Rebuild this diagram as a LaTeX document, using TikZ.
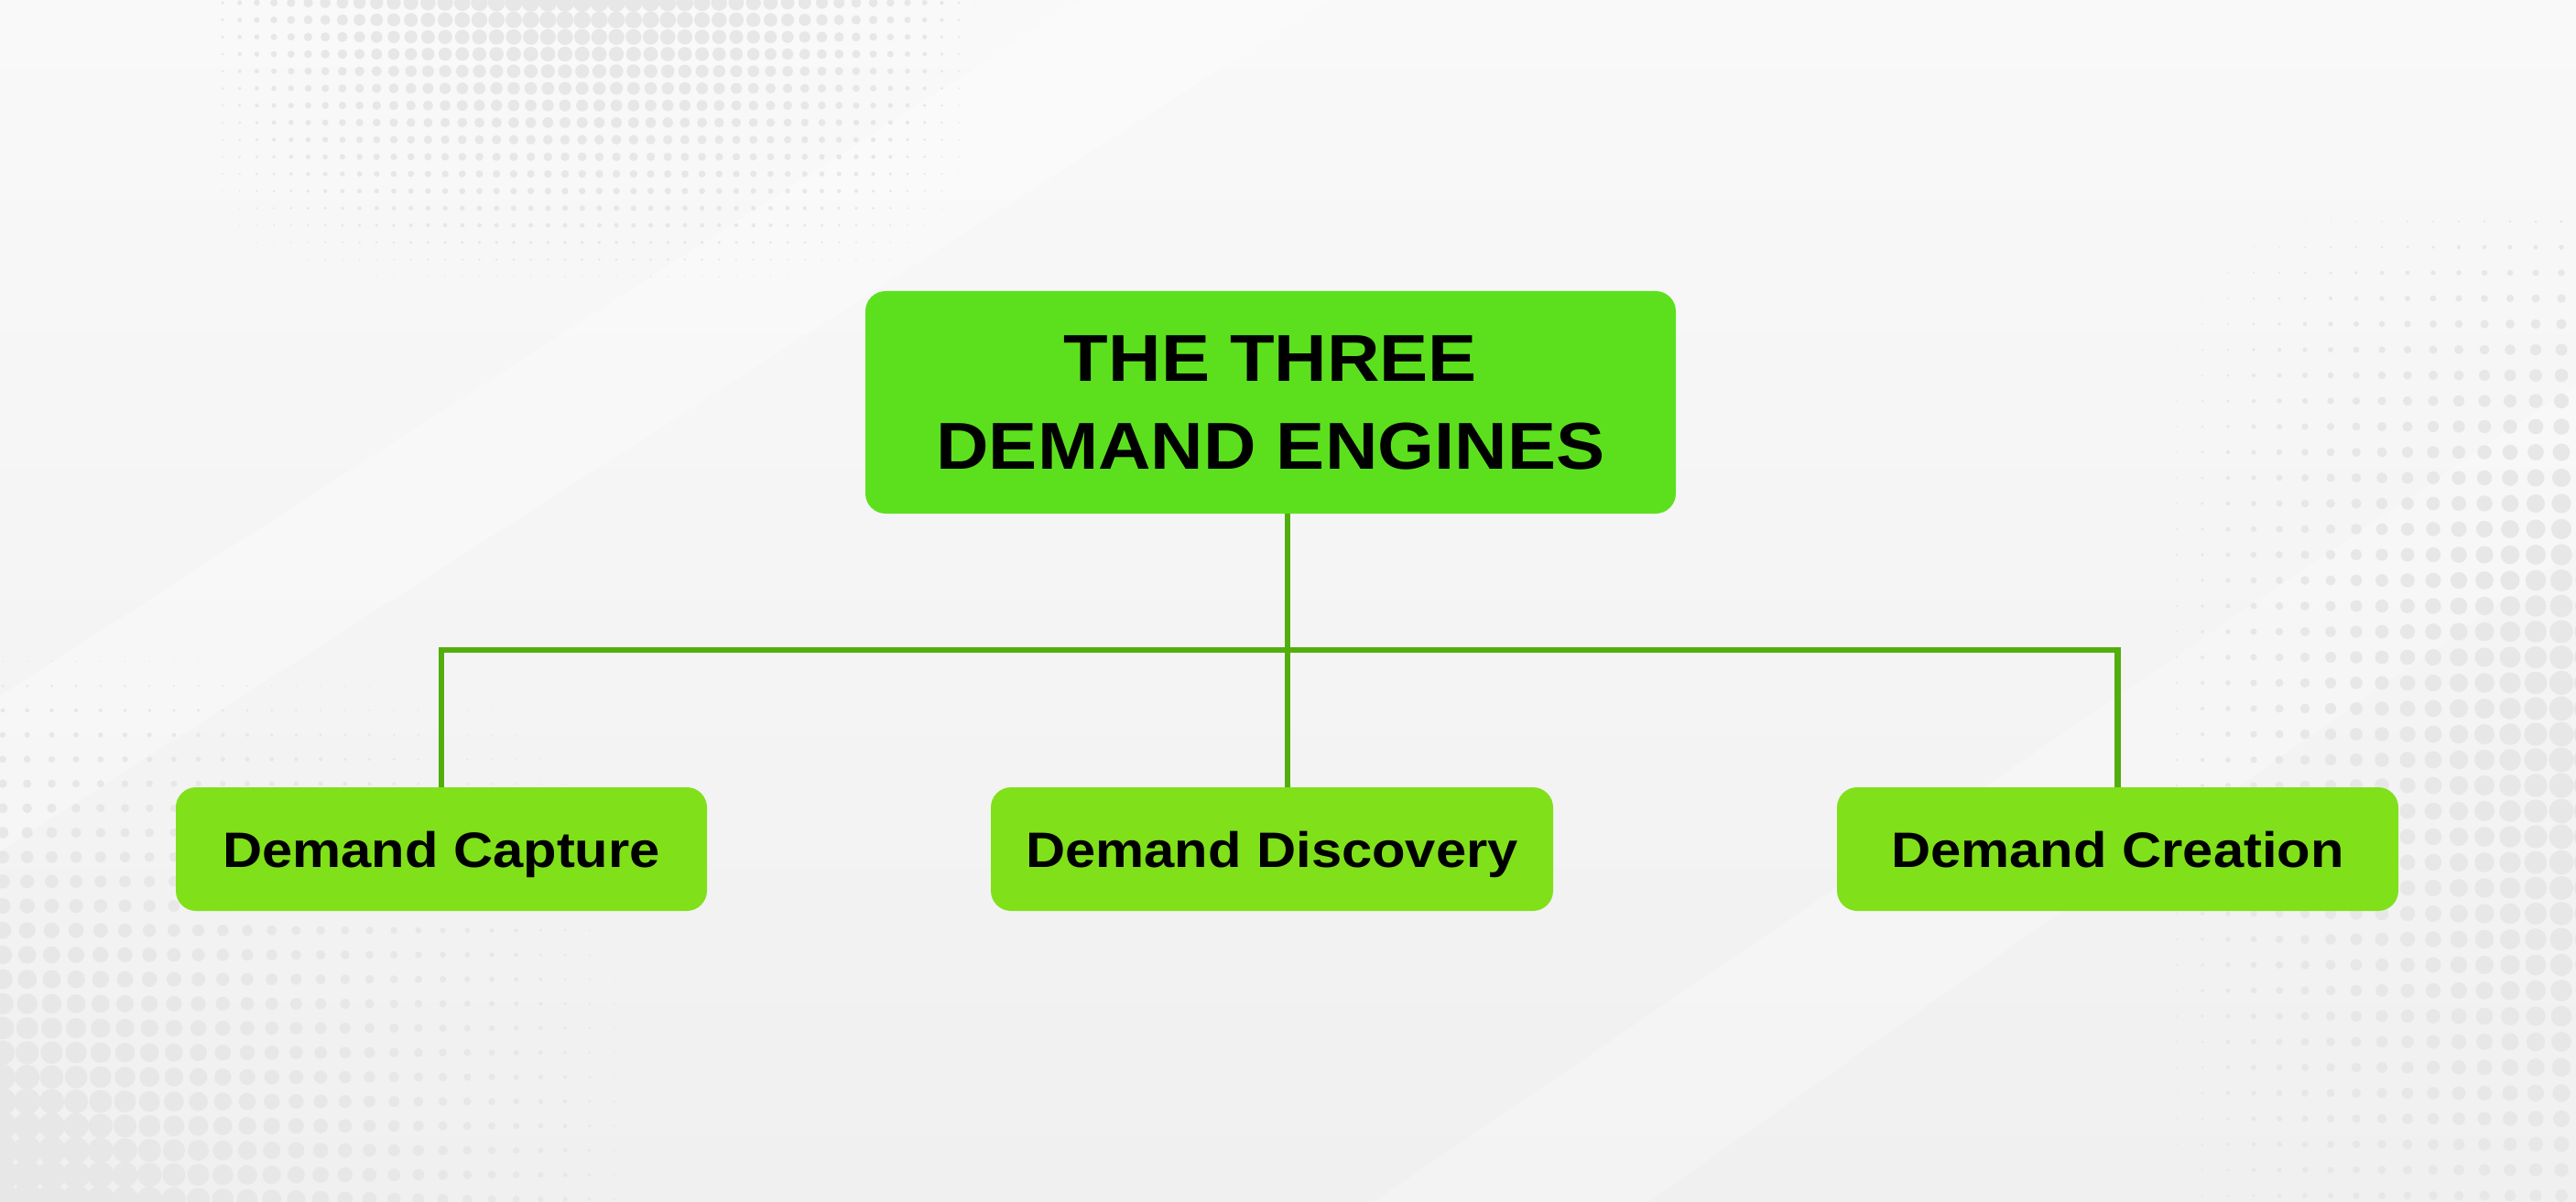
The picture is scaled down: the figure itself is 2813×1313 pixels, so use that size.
\documentclass[tikz,border=0pt]{standalone}
\usepackage{fontspec}
\newfontfamily\lsb{Liberation Sans}[FakeStretch=1.1]
\definecolor{topg}{HTML}{5CE01E}
\definecolor{boxg}{HTML}{80E01A}
\definecolor{lineg}{HTML}{52AE0C}
\definecolor{bgtop}{HTML}{F9F9F9}
\definecolor{bgbot}{HTML}{F0F0F0}
\definecolor{dotc}{HTML}{E7E7E7}
\begin{document}
\begin{tikzpicture}[x=1pt,y=-1pt,
  headbox/.style={rounded corners=22pt, fill=topg, minimum width=885pt, minimum height=243pt,
    inner sep=0pt, font=\lsb\bfseries\fontsize{72.4pt}{96pt}\selectfont, align=center, text depth=0pt},
  engbox/.style={rounded corners=22pt, fill=boxg, minimum height=135pt, inner sep=0pt,
    font=\lsb\bfseries\fontsize{54.3pt}{60pt}\selectfont, text depth=0pt},
  conn/.style={draw=lineg, line width=6.5pt},
  dotfill/.style={fill=dotc}]
\useasboundingbox (0,0) rectangle (2813,1313);
% background
\shade[top color=bgtop, bottom color=bgbot] (0,0) rectangle (2813,1313);
\fill[white,opacity=0.3] (0,760) -- (1180,0) -- (1450,0) -- (0,930) -- cycle;
\fill[white,opacity=0.25] (1500,1313) -- (2813,420) -- (2813,600) -- (1800,1313) -- cycle;
\begin{scope}
\clip (0,0) rectangle (2813,1313);
% halftone top-left
\foreach \i in {0,...,44}{\foreach \j in {0,...,17}{
  \pgfmathsetmacro\xx{243+18.7*\i}
  \pgfmathsetmacro\yy{3+18.7*\j}
  \pgfmathsetmacro\rr{10*max(0,1-((\xx-640)/440)^2)*max(0,1-\yy/330)}
  \ifdim\rr pt>0.6pt \fill[dotfill] (\xx,\yy) circle[radius=\rr pt];\fi
}}
% halftone bottom-left
\foreach \i in {0,...,26}{\foreach \j in {0,...,22}{
  \pgfmathsetmacro\xx{3+26.7*\i}
  \pgfmathsetmacro\yy{1310-26.7*\j}
  \pgfmathsetmacro\rr{18*max(0,1-\xx/720)*max(0,1-(1313-\yy)/620)}
  \ifdim\rr pt>0.6pt \fill[dotfill] (\xx,\yy) circle[radius=\rr pt];\fi
}}
% halftone right
\foreach \i in {0,...,17}{\foreach \j in {0,...,40}{
  \pgfmathsetmacro\xx{2825-28*\i}
  \pgfmathsetmacro\yy{718+28*(\j-18)}
  \pgfmathsetmacro\rr{14*max(0,1-(2813-\xx)/480)*max(0,1-((\yy-850)/650)^2)}
  \ifdim\rr pt>0.6pt \fill[dotfill] (\xx,\yy) circle[radius=\rr pt];\fi
}}
\end{scope}
% nodes
\node[headbox] (head) at (1387.5,439.5) {THE THREE\\DEMAND ENGINES};
\node[engbox, minimum width=580pt] (cap) at (482,927.5) {Demand Capture};
\node[engbox, minimum width=614pt] (disc) at (1389,927.5) {Demand Discovery};
\node[engbox, minimum width=613pt] (crea) at (2312.5,927.5) {Demand Creation};
% connectors
\coordinate (bus) at (1406,710);
\draw[conn] (head.south -| bus) -- (disc.north -| bus);
\draw[conn] (cap.north) -- (cap.north |- bus) -- (crea.north |- bus) -- (crea.north);
\end{tikzpicture}
\end{document}
